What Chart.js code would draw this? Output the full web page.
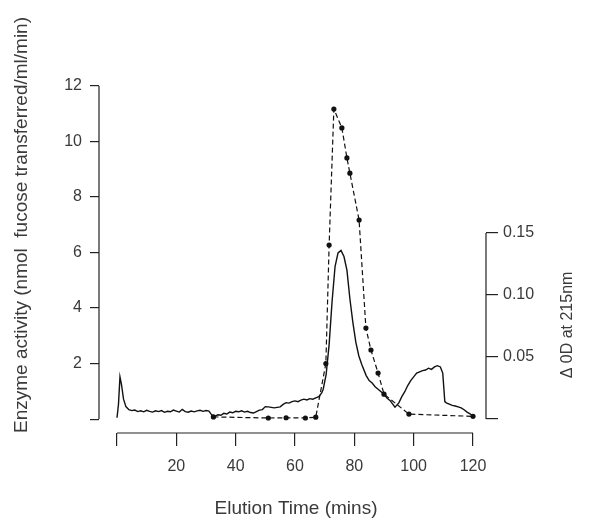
<!DOCTYPE html>
<html>
<head>
<meta charset="utf-8">
<script src="https://cdn.jsdelivr.net/npm/chart.js@4/dist/chart.umd.min.js"></script>
<style>
  html, body { margin: 0; padding: 0; background: #fff; }
  #wrap { width: 597px; height: 519px; position: relative; }
</style>
</head>
<body>
<div id="wrap"><canvas id="elutionChart"></canvas></div>
<script>
// solid trace - absorbance at 215 nm (right axis)
const odTimes = [0, 0.5, 1, 1.5, 2.2, 3, 4, 5, 6, 7, 8, 9, 10, 11, 12, 13, 14, 15, 16, 17, 18, 19, 20,
  21, 22, 23, 24, 25, 26, 27, 28, 29, 30, 31, 32, 33, 34, 35, 36, 37, 38, 39, 40, 41, 42, 43, 44, 45,
  46, 47, 48, 49, 50, 51, 52, 53, 54, 55, 56, 57, 58, 59, 60, 61, 62, 63, 64, 65, 66, 67, 68, 69,
  69.5, 70.5, 71.5, 72.5, 73.5, 74.5, 75.5, 76.5, 77.5, 78.5, 79.5, 80.5, 81.5, 82.5, 84, 85, 86, 87,
  88, 89, 90, 91, 92, 93.7, 95, 96, 97, 98, 99, 100, 101, 102, 103, 104, 105, 106, 107, 108, 109,
  109.8, 110.5, 111, 112, 113, 114, 115, 116, 117, 118, 119, 120];
const odValues = [0.001, 0.012, 0.034, 0.028, 0.016, 0.010, 0.0075, 0.0068, 0.0072, 0.0060, 0.0066,
  0.0058, 0.0070, 0.0062, 0.0056, 0.0066, 0.0060, 0.0068, 0.0054, 0.0062, 0.0058, 0.0072, 0.0064,
  0.0056, 0.0078, 0.0060, 0.0055, 0.0064, 0.0058, 0.0066, 0.0070, 0.0062, 0.0068, 0.0064, 0.0030,
  0.0022, 0.0034, 0.0030, 0.0046, 0.0040, 0.0056, 0.0050, 0.0062, 0.0058, 0.0066, 0.0056, 0.0062,
  0.0052, 0.0048, 0.0060, 0.0072, 0.0076, 0.0100, 0.0098, 0.0094, 0.0090, 0.0094, 0.0098, 0.0118,
  0.0132, 0.0128, 0.0140, 0.0146, 0.0140, 0.0152, 0.0160, 0.0154, 0.0164, 0.0160, 0.0170, 0.0180,
  0.0210, 0.024, 0.036, 0.060, 0.095, 0.123, 0.134, 0.136, 0.131, 0.120, 0.097, 0.078, 0.062, 0.051,
  0.044, 0.035, 0.031, 0.029, 0.026, 0.024, 0.022, 0.020, 0.017, 0.015, 0.0095, 0.013, 0.018, 0.022,
  0.027, 0.031, 0.034, 0.037, 0.038, 0.039, 0.0395, 0.041, 0.040, 0.042, 0.043, 0.042, 0.037, 0.014,
  0.013, 0.012, 0.011, 0.0105, 0.0098, 0.009, 0.0075, 0.0056, 0.0042, 0.0024];

// dashed trace with dots - enzyme activity (left axis)
const activityTimes = [32.5, 51, 57, 63.5, 67, 70.4, 71.5, 73.1, 75.8, 77.5, 78.5, 81.6, 83.9, 85.6,
  88, 90, 98.4, 120];
const activityValues = [0.08, 0.04, 0.05, 0.04, 0.07, 2.0, 6.27, 11.17, 10.49, 9.41, 8.86, 7.17, 3.28,
  2.49, 1.66, 0.9, 0.18, 0.1];

const timeTicks = [0, 20, 40, 60, 80, 100, 120];
const activityTicks = [0, 2, 4, 6, 8, 10, 12];
const odTicks = [0, 0.05, 0.10, 0.15];

const textColor = '#3a3a3a';
const fontFamily = "'Liberation Sans', Arial, sans-serif";

// axis lines only span the labelled range, plus the titles
const axisFrame = {
  id: 'axisFrame',
  afterDraw(chart) {
    const { ctx, chartArea, scales } = chart;
    const x = scales.x, y = scales.y, y2 = scales.y2;
    ctx.save();
    ctx.strokeStyle = '#222';
    ctx.lineWidth = 1.2;
    ctx.beginPath();
    ctx.moveTo(chartArea.left, y.getPixelForValue(activityTicks[0]));
    ctx.lineTo(chartArea.left, y.getPixelForValue(activityTicks[activityTicks.length - 1]));
    ctx.moveTo(x.getPixelForValue(timeTicks[0]), chartArea.bottom);
    ctx.lineTo(x.getPixelForValue(timeTicks[timeTicks.length - 1]), chartArea.bottom);
    ctx.moveTo(chartArea.right, y2.getPixelForValue(odTicks[0]));
    ctx.lineTo(chartArea.right, y2.getPixelForValue(odTicks[odTicks.length - 1]));
    ctx.stroke();

    ctx.fillStyle = textColor;
    ctx.font = '19px ' + fontFamily;
    ctx.textAlign = 'center';
    ctx.textBaseline = 'middle';
    ctx.fillText('Elution Time (mins)', 296, 509);

    ctx.translate(22, 225);
    ctx.rotate(-Math.PI / 2);
    ctx.fillText('Enzyme activity (nmol  fucose transferred/ml/min)', 0, 0);
    ctx.restore();

    ctx.save();
    ctx.fillStyle = textColor;
    ctx.font = '16px ' + fontFamily;
    ctx.textAlign = 'center';
    ctx.textBaseline = 'middle';
    ctx.translate(568, 325);
    ctx.rotate(-Math.PI / 2);
    ctx.fillText('\u0394 0D at 215nm', 0, 0);
    ctx.restore();
  }
};

const tickFont = { family: fontFamily, size: 16 };

new Chart(document.getElementById('elutionChart'), {
  type: 'line',
  data: {
    datasets: [
      {
        label: 'A215',
        yAxisID: 'y2',
        data: odTimes.map((t, i) => ({ x: t, y: odValues[i] })),
        borderColor: '#111',
        borderWidth: 1.4,
        pointRadius: 0,
        tension: 0
      },
      {
        label: 'Enzyme activity',
        yAxisID: 'y',
        data: activityTimes.map((t, i) => ({ x: t, y: activityValues[i] })),
        borderColor: '#111',
        borderWidth: 1.2,
        borderDash: [5, 3],
        pointRadius: 2.6,
        pointBackgroundColor: '#111',
        pointBorderWidth: 0,
        tension: 0
      }
    ]
  },
  options: {
    responsive: true,
    maintainAspectRatio: false,
    animation: false,
    layout: { padding: { top: 86, left: 0, right: 0, bottom: 0 } },
    plugins: { legend: { display: false }, tooltip: { enabled: false } },
    scales: {
      x: {
        type: 'linear',
        min: -6.07,
        max: 124.38,
        afterBuildTicks: s => { s.ticks = timeTicks.map(v => ({ value: v })); },
        afterFit: s => { s.height = 86; },
        ticks: {
          autoSkip: false, maxRotation: 0, padding: 11, color: textColor, font: tickFont,
          callback: v => (v === 0 ? '' : v)
        },
        grid: { drawOnChartArea: false, drawTicks: true, tickLength: 13, color: '#222', lineWidth: 1.2 },
        border: { display: false }
      },
      y: {
        position: 'left',
        min: -0.5,
        max: 12,
        afterBuildTicks: s => { s.ticks = activityTicks.map(v => ({ value: v })); },
        afterFit: s => { s.width = 99; },
        ticks: { padding: 8, color: textColor, font: tickFont, callback: v => (v === 0 ? '' : v) },
        grid: { drawOnChartArea: false, drawTicks: true, tickLength: 9, color: '#222', lineWidth: 1.2 },
        border: { display: false }
      },
      y2: {
        position: 'right',
        min: -0.01129,
        max: 0.26855,
        afterBuildTicks: s => { s.ticks = odTicks.map(v => ({ value: v })); },
        afterFit: s => { s.width = 111; },
        ticks: { padding: 5, color: textColor, font: tickFont, callback: v => (v === 0 ? '' : v.toFixed(2)) },
        grid: { drawOnChartArea: false, drawTicks: true, tickLength: 12, color: '#222', lineWidth: 1.2 },
        border: { display: false }
      }
    }
  },
  plugins: [axisFrame]
});
</script>
</body>
</html>
